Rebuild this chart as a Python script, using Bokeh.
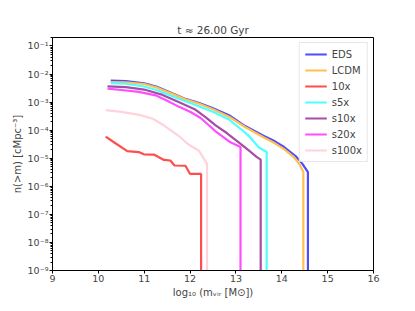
from bokeh.plotting import figure
from bokeh.models import FixedTicker, CustomJSTickFormatter, Legend, LegendItem, Range1d
from bokeh.embed import file_html
from bokeh.resources import INLINE

# ---- data (log10 mass, cumulative number density) ----
labels = ["EDS", "LCDM", "10x", "s5x", "s10x", "s20x", "s100x"]
colors = ["#4d4dff", "#ffc04d", "#ff4d4d", "#4dffff", "#a64da6", "#ff4dff", "#ffd3db"]

eds_x = [10.27, 10.6, 11.0, 11.3, 11.6, 11.9, 12.2, 12.5, 12.85, 13.2, 13.6, 13.85, 14.05, 14.3, 14.45, 14.57, 14.57]
eds_n = [5.8e-3, 5.6e-3, 4.7e-3, 3.4e-3, 2.1e-3, 1.3e-3, 9.3e-4, 6.0e-4, 3.4e-4, 1.4e-4, 6.3e-5, 4.0e-5, 2.5e-5, 1.2e-5, 6.3e-6, 3.2e-6, 1e-14]

lcdm_x = [10.27, 10.6, 11.0, 11.3, 11.6, 11.9, 12.2, 12.5, 12.85, 13.2, 13.6, 13.85, 14.05, 14.26, 14.38, 14.47, 14.47]
lcdm_n = [5.2e-3, 5.1e-3, 4.4e-3, 3.2e-3, 2.0e-3, 1.25e-3, 8.7e-4, 5.6e-4, 3.0e-4, 1.3e-4, 5.6e-5, 3.4e-5, 2.1e-5, 1.1e-5, 6.3e-6, 3.2e-6, 1e-14]

x10_x = [10.16, 10.34, 10.63, 10.88, 10.99, 11.21, 11.43, 11.57, 11.66, 11.9, 12.0, 12.24, 12.24]
x10_n = [5.9e-5, 3.7e-5, 1.8e-5, 1.66e-5, 1.38e-5, 1.35e-5, 8.7e-6, 8.3e-6, 5.5e-6, 5.4e-6, 2.75e-6, 2.75e-6, 1e-14]

s5_x = [10.27, 10.6, 11.0, 11.3, 11.75, 12.12, 12.5, 12.85, 13.1, 13.28, 13.5, 13.67, 13.67]
s5_n = [4.7e-3, 4.5e-3, 3.6e-3, 2.6e-3, 1.32e-3, 7.9e-4, 4.5e-4, 2.4e-4, 1.12e-4, 6.3e-5, 2.4e-5, 1.66e-5, 1e-14]

s10_x = [10.2, 10.6, 11.0, 11.4, 11.75, 12.1, 12.35, 12.55, 12.8, 13.06, 13.28, 13.45, 13.54, 13.54]
s10_n = [3.6e-3, 3.4e-3, 2.8e-3, 1.8e-3, 1.0e-3, 5.6e-4, 2.8e-4, 1.5e-4, 7.9e-5, 3.7e-5, 1.9e-5, 1.12e-5, 8.9e-6, 1e-14]

s20_x = [10.2, 10.5, 10.88, 11.25, 11.5, 11.75, 12.0, 12.23, 12.55, 12.88, 13.1, 13.1]
s20_n = [3.0e-3, 2.7e-3, 2.3e-3, 1.74e-3, 1.12e-3, 6.9e-4, 4.5e-4, 2.7e-4, 9.3e-5, 3.7e-5, 2.5e-5, 1e-14]

s100_x = [10.16, 10.5, 10.9, 11.2, 11.45, 11.75, 11.95, 12.2, 12.37, 12.37]
s100_n = [5.2e-4, 4.5e-4, 3.5e-4, 2.5e-4, 1.4e-4, 6.3e-5, 3.2e-5, 1.8e-5, 6.3e-6, 1e-14]

series_x = [eds_x, lcdm_x, x10_x, s5_x, s10_x, s20_x, s100_x]
series_n = [eds_n, lcdm_n, x10_n, s5_n, s10_n, s20_n, s100_n]

x_ticks = [9, 10, 11, 12, 13, 14, 15, 16]
y_major = [1e-1, 1e-2, 1e-3, 1e-4, 1e-5, 1e-6, 1e-7, 1e-8, 1e-9]
y_minor = [m * 10.0 ** e for e in range(-9, 0) for m in range(2, 10)]

FONT = "DejaVu Sans"

p = figure(width=399, height=300, y_axis_type="log", output_backend="svg",
           toolbar_location=None, title="t \u2248 26.00 Gyr",
           x_range=Range1d(9, 16), y_range=Range1d(1e-9, 0.2),
           min_border_left=52, min_border_right=26, min_border_top=37, min_border_bottom=0)

p.title.align = "center"
p.title.text_font = FONT
p.title.text_font_size = "10.5px"
p.title.text_font_style = "normal"
p.title.standoff = 3

p.xgrid.visible = False
p.ygrid.visible = False
p.outline_line_color = "black"
p.outline_line_width = 1
p.background_fill_color = "white"
p.border_fill_color = "white"

items = []
for lab, col, xs, ns in zip(labels, colors, series_x, series_n):
    r = p.line(xs, ns, line_color=col, line_width=2.2)
    items.append(LegendItem(label=lab, renderers=[r]))

legend = Legend(items=items, location="top_right")
legend.label_text_font = FONT
legend.label_text_font_size = "10px"
legend.glyph_width = 22
legend.glyph_height = 12
legend.label_height = 12
legend.spacing = 4
legend.padding = 5
legend.margin = 5
legend.border_line_color = "#d0d0d0"
legend.border_line_width = 1
legend.background_fill_alpha = 0.8
p.add_layout(legend)

# axes
p.xaxis.ticker = FixedTicker(ticks=x_ticks)
p.xaxis.minor_tick_line_color = None
p.yaxis.ticker = FixedTicker(ticks=y_major, minor_ticks=y_minor)
p.yaxis.formatter = CustomJSTickFormatter(code="""
const sup = {"-":"\u207b","0":"\u2070","1":"\u00b9","2":"\u00b2","3":"\u00b3","4":"\u2074","5":"\u2075","6":"\u2076","7":"\u2077","8":"\u2078","9":"\u2079"};
const e = Math.round(Math.log10(tick));
return "10" + String(e).split("").map(c => sup[c]).join("");
""")
for ax in (p.xaxis[0], p.yaxis[0]):
    ax.axis_line_color = "black"
    ax.major_tick_line_color = "black"
    ax.major_tick_in = 0
    ax.major_tick_out = 3
    ax.minor_tick_in = 0
    ax.minor_tick_out = 2
    ax.major_label_text_font = FONT
    ax.major_label_text_font_size = "9.5px"
    ax.axis_label_text_font = FONT
    ax.axis_label_text_font_size = "10px"
    ax.axis_label_text_font_style = "normal"
    ax.major_label_standoff = 1
    ax.axis_label_standoff = 2

p.xaxis.axis_label = "log\u2081\u2080 (m\u1d65\u1d62\u1d63 [M\u2299])"
p.yaxis.axis_label = "n(>m) [cMpc\u207b\u00b3]"

open("out.html", "w").write(file_html(p, INLINE))
